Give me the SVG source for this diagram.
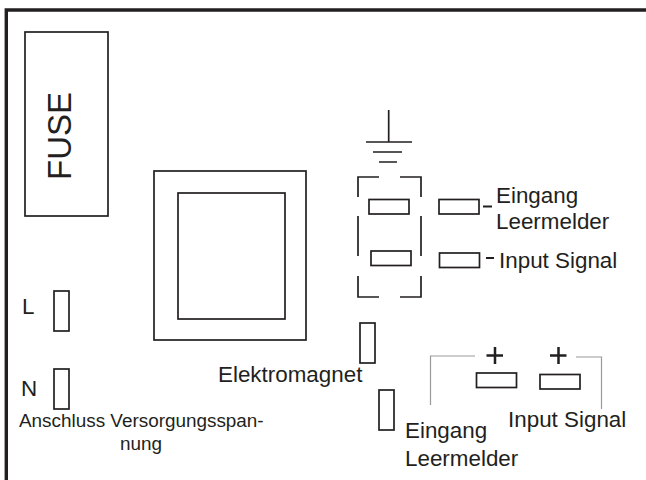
<svg xmlns="http://www.w3.org/2000/svg" width="646" height="480" viewBox="0 0 646 480">
<style>
text{font-family:"Liberation Sans",Arial,sans-serif;font-size:22.400px;fill:#231f20}
.b{fill:#fff;stroke:#231f20;stroke-width:1.700}
.l{fill:none;stroke:#231f20;stroke-width:1.700}
.g{fill:none;stroke:#9a9a9a;stroke-width:1.200}
.d{fill:none;stroke:#231f20;stroke-width:2}
.s{font-size:18.900px}
</style>
<rect width="646" height="480" fill="#fff"/>
<g id="frame"><path d="M6.300 480V10H646" fill="none" stroke="#231f20" stroke-width="3.400"/></g>
<g id="fuse"><rect class="b" x="25" y="32" width="83" height="184"/><text transform="translate(71 180) rotate(-90)" style="font-size:33px">FUSE</text></g>
<g id="transformer"><rect class="b" x="154" y="171" width="152" height="169"/><rect class="b" x="178" y="193" width="107" height="126"/></g>
<g id="ground"><path class="l" d="M388.700 110V142M366 142H412M373 152H402M379 162H397"/></g>
<g id="bracket"><path class="l" d="M358 197V177H379M400 177H421V197M358 216V256M421 216V256M358 276V297H379M400 297H421V276"/></g>
<g id="sensor-terminals"><rect class="b" x="369" y="199.500" width="40" height="14.500"/><rect class="b" x="371" y="251" width="40" height="14.500"/></g>
<g id="eingang-minus"><rect class="b" x="439" y="199.500" width="40" height="14.500"/><path class="d" d="M483 206.500H492"/><text x="496" y="203">Eingang</text><text x="496" y="229">Leermelder</text></g>
<g id="input-minus"><rect class="b" x="439.500" y="253" width="40" height="14.500"/><path class="d" d="M486 258H494"/><text x="499" y="268">Input Signal</text></g>
<g id="magnet-terminals"><rect class="b" x="360" y="323" width="15" height="40"/><rect class="b" x="379" y="390" width="15" height="40"/><text x="218" y="382">Elektromagnet</text></g>
<g id="eingang-plus"><rect class="b" x="476.500" y="373" width="40" height="14.500"/><path class="d" style="stroke-width:2.500" d="M486.500 355.500H503M495 347V364"/><text x="405" y="438">Eingang</text><text x="405" y="466">Leermelder</text></g>
<g id="input-plus"><rect class="b" x="540" y="374.500" width="40" height="14.500"/><path class="d" style="stroke-width:2.500" d="M550 355.500H566.500M558.500 347V364"/><text x="508" y="427">Input Signal</text></g>
<g id="connectors"><path class="g" d="M430.500 405V356H475"/><path class="g" d="M576 357H601.500V409"/></g>
<g id="supply"><rect class="b" x="54" y="291" width="15" height="40"/><rect class="b" x="54" y="369" width="15" height="40"/><text x="22" y="314">L</text><text x="21" y="396">N</text><text class="s" x="19" y="427">Anschluss Versorgungsspan-</text><text class="s" x="141" y="450" text-anchor="middle">nung</text></g>
</svg>
